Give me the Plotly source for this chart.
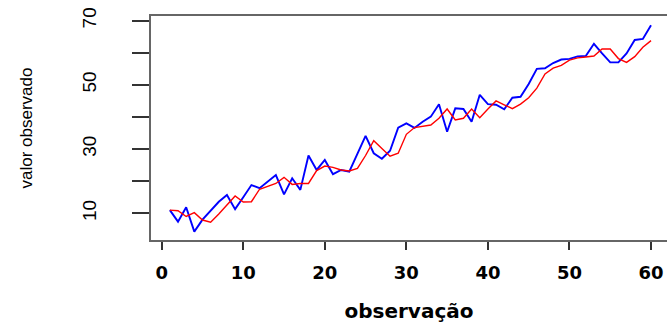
import plotly.graph_objects as go

# index of observation
observacao = list(range(1, 61))

# blue series: observed values
valor_observado = [
    11.0, 7.4, 11.9, 4.3, 8.0, 10.8, 13.6, 15.7, 11.3, 15.0,
    18.8, 17.8, 19.9, 21.9, 15.9, 20.9, 17.3, 28.0, 23.5, 26.6,
    22.2, 23.5, 23.0, 28.5, 34.1, 28.7, 27.0, 29.5, 36.7, 38.0,
    36.6, 38.5, 40.1, 44.0, 35.4, 42.7, 42.5, 38.5, 46.9, 44.0,
    43.8, 42.4, 46.0, 46.3, 50.3, 55.0, 55.2, 56.8, 57.9, 58.1,
    58.9, 59.0, 62.8, 59.8, 57.0, 57.0, 59.8, 64.0, 64.3, 68.6,
]

# red series: fitted / smoothed values
valor_ajustado = [
    11.0, 10.8, 9.0, 10.2, 7.9, 7.2, 9.8, 12.5, 15.4, 13.5,
    13.6, 17.5, 18.3, 19.3, 21.2, 19.0, 19.3, 19.3, 23.3, 24.7,
    24.3, 23.5, 23.2, 24.0, 28.0, 32.6, 30.2, 27.8, 28.7, 34.6,
    36.7, 37.0, 37.5, 39.6, 42.5, 39.1, 39.6, 42.5, 39.8, 42.5,
    45.0, 43.8, 42.6, 44.0, 46.0, 49.0, 53.4, 55.2, 56.1, 57.7,
    58.4, 58.7, 59.0, 61.2, 61.2, 58.2, 57.0, 58.8, 61.7, 63.8,
]

x_tickvals = [0, 10, 20, 30, 40, 50, 60]
x_ticktext = ["0", "10", "20", "30", "40", "50", "60"]
y_tickvals = [10, 20, 30, 40, 50, 60, 70]
y_ticktext = ["10", "", "30", "", "50", "", "70"]

fig = go.Figure()
fig.add_trace(go.Scatter(x=observacao, y=valor_observado, mode="lines",
                         line=dict(color="#0000FF", width=1.9)))
fig.add_trace(go.Scatter(x=observacao, y=valor_ajustado, mode="lines",
                         line=dict(color="#FF0000", width=1.4)))

fig.update_layout(
    width=667, height=323,
    margin=dict(l=151, r=0, t=16, b=83, pad=0),
    paper_bgcolor="white", plot_bgcolor="white",
    showlegend=False,
    xaxis=dict(
        range=[-1.312, 61.96],
        tickvals=x_tickvals, ticktext=x_ticktext,
        ticks="outside", ticklen=8, tickwidth=1.5, tickcolor="#333333",
        showline=True, mirror=True, linecolor="#666666", linewidth=1.5,
        showgrid=False, zeroline=False,
        tickfont=dict(family="DejaVu Sans", size=18, weight="bold", color="black"),
        ticklabelstandoff=8, ticklabeloverflow="allow",
        title=dict(text="observação", standoff=23,
                   font=dict(family="DejaVu Sans", size=20, weight="bold", color="black")),
    ),
    yaxis=dict(
        range=[1.68, 71.46],
        tickvals=y_tickvals, ticktext=y_ticktext,
        ticks="outside", ticklen=17, tickwidth=1.5, tickcolor="#333333",
        showline=True, mirror=False, linecolor="#666666", linewidth=1.5,
        showgrid=False, zeroline=False,
        tickangle=-90,
        tickfont=dict(family="Liberation Sans", size=19, color="black"),
        ticklabelstandoff=29, ticklabeloverflow="allow",
        title=dict(text="valor observado", standoff=42,
                   font=dict(family="Liberation Sans", size=17, color="black")),
    ),
)

fig.write_html(
    "out.html",
    config={"displayModeBar": False},
    post_script="document.body.style.margin='0';document.body.style.overflow='hidden';",
)
